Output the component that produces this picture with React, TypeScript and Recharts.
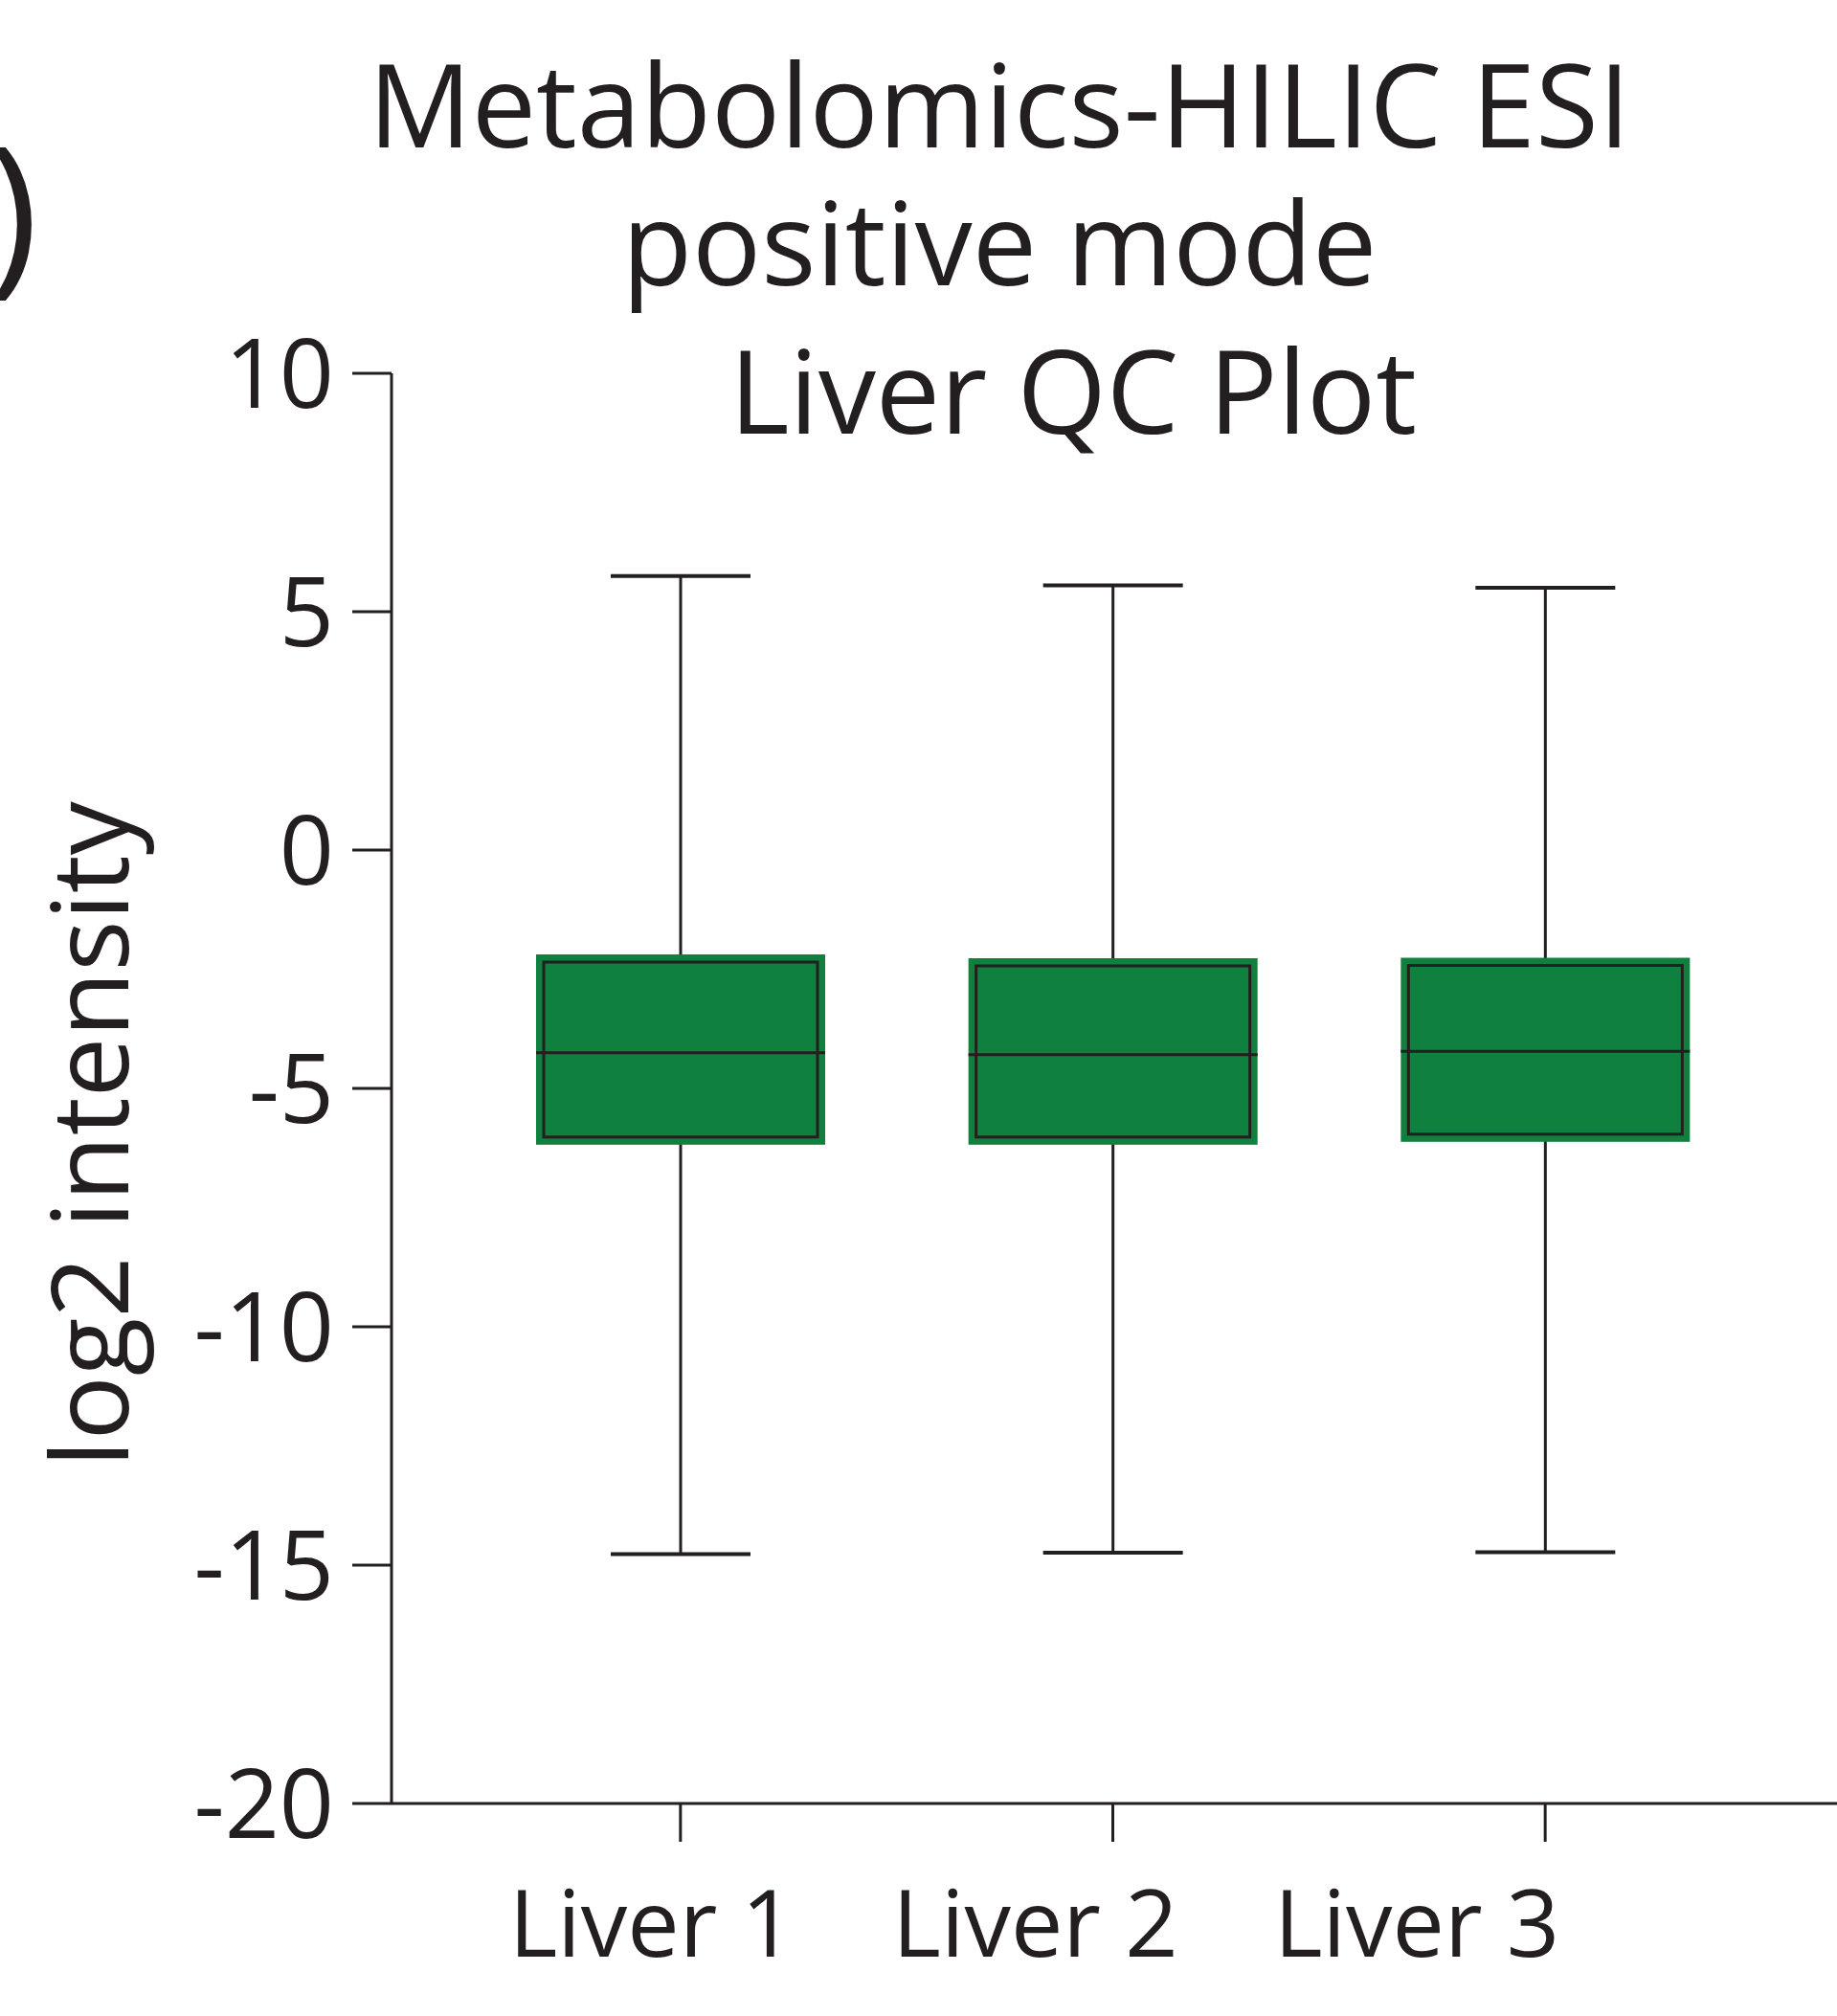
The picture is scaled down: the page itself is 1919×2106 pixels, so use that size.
import { BarChart, Bar, XAxis, YAxis } from 'recharts';

// Liver QC box plot, metabolomics HILIC ESI positive mode
const CATEGORIES = ['Liver 1', 'Liver 2', 'Liver 3'];
const WHISKER_MIN = [-14.77, -14.74, -14.73];
const Q1 = [-6.02, -6.02, -5.96];
const MEDIAN = [-4.25, -4.29, -4.22];
const Q3 = [-2.35, -2.43, -2.42];
const WHISKER_MAX = [5.75, 5.55, 5.5];
const Y_TICKS = [-20, -15, -10, -5, 0, 5, 10];

const INK = '#231f20';
const GREEN = '#10803f';
const FONT = '"Open Sans", sans-serif';

// the category labels sit a bit left of their ticks in the original figure
const LABEL_SHIFT = [-30, -81, -134];

const data = CATEGORIES.map((name, i) => ({
  name,
  range: [WHISKER_MIN[i], WHISKER_MAX[i]],
  min: WHISKER_MIN[i],
  q1: Q1[i],
  median: MEDIAN[i],
  q3: Q3[i],
  max: WHISKER_MAX[i],
}));

function BoxShape(props: any) {
  const { x, y, width, height, payload } = props;
  const top = Math.min(y, y + height);
  const bottom = Math.max(y, y + height);
  const px = (bottom - top) / (payload.max - payload.min);
  const yOf = (v: number) => top + (payload.max - v) * px;
  const cx = x + width / 2;
  const capHalf = 73;
  const yQ3 = yOf(payload.q3);
  const yQ1 = yOf(payload.q1);
  const yMed = yOf(payload.median);
  const pad = 8;
  return (
    <g>
      <line x1={cx} x2={cx} y1={top} y2={bottom} stroke={INK} strokeWidth={3} />
      <line x1={cx - capHalf} x2={cx + capHalf} y1={top} y2={top} stroke={INK} strokeWidth={4} />
      <line x1={cx - capHalf} x2={cx + capHalf} y1={bottom} y2={bottom} stroke={INK} strokeWidth={4} />
      <rect
        x={x - pad}
        y={yQ3 - pad}
        width={width + pad * 2}
        height={yQ1 - yQ3 + pad * 2}
        fill={GREEN}
      />
      <rect
        x={x}
        y={yQ3}
        width={width}
        height={yQ1 - yQ3}
        fill="none"
        stroke={INK}
        strokeWidth={3}
      />
      <line x1={x - pad} x2={x + width + pad} y1={yMed} y2={yMed} stroke={INK} strokeWidth={3} />
    </g>
  );
}

function XTick(props: any) {
  const { x, y, payload, index } = props;
  return (
    <text
      x={x + (LABEL_SHIFT[index] || 0)}
      y={y}
      dy="0.71em"
      textAnchor="middle"
      fill={INK}
      fontSize={97}
      fontFamily={FONT}
    >
      {payload.value}
    </text>
  );
}

export default function App() {
  return (
    <div style={{ position: 'absolute', left: 0, top: 0, width: 1919, height: 2106, background: '#fff' }}>
      <BarChart
        width={1919}
        height={2106}
        data={data}
        margin={{ top: 390, right: 0, bottom: 0, left: 0 }}
        barCategoryGap={0}
      >
        <XAxis
          dataKey="name"
          height={222}
          padding={{ left: 76, right: 79 }}
          axisLine={{ stroke: INK, strokeWidth: 3 }}
          tickLine={{ stroke: INK, strokeWidth: 3 }}
          tickSize={40}
          tickMargin={51}
          interval={0}
          tick={(p: any) => <XTick {...p} />}
        />
        <YAxis
          type="number"
          domain={[-20, 10]}
          ticks={Y_TICKS}
          interval={0}
          width={409}
          axisLine={{ stroke: INK, strokeWidth: 3 }}
          tickLine={{ stroke: INK, strokeWidth: 3 }}
          tickSize={41}
          tickMargin={19}
          tick={{ fill: INK, fontSize: 100, fontFamily: FONT }}
          allowDataOverflow
        />
        <Bar dataKey="range" barSize={286} shape={(p: any) => <BoxShape {...p} />} isAnimationActive={false} />
      </BarChart>
      <svg
        width={1919}
        height={2106}
        style={{ position: 'absolute', left: 0, top: 0, pointerEvents: 'none' }}
      >
        <text x={-14} y={285} fontSize={184} fontFamily={FONT} fill={INK}>
          )
        </text>
        <g fontFamily={FONT} fontSize={120} fill={INK} textAnchor="middle">
          <text x={1044} y={154}>Metabolomics-HILIC ESI</text>
          <text x={1044} y={298}>positive mode</text>
          <text x={1121} y={453}>Liver QC Plot</text>
        </g>
        <text
          x={0}
          y={0}
          transform="translate(134 1185) rotate(-90)"
          textAnchor="middle"
          fontSize={112}
          fontFamily={FONT}
          fill={INK}
        >
          log2 intensity
        </text>
      </svg>
    </div>
  );
}
